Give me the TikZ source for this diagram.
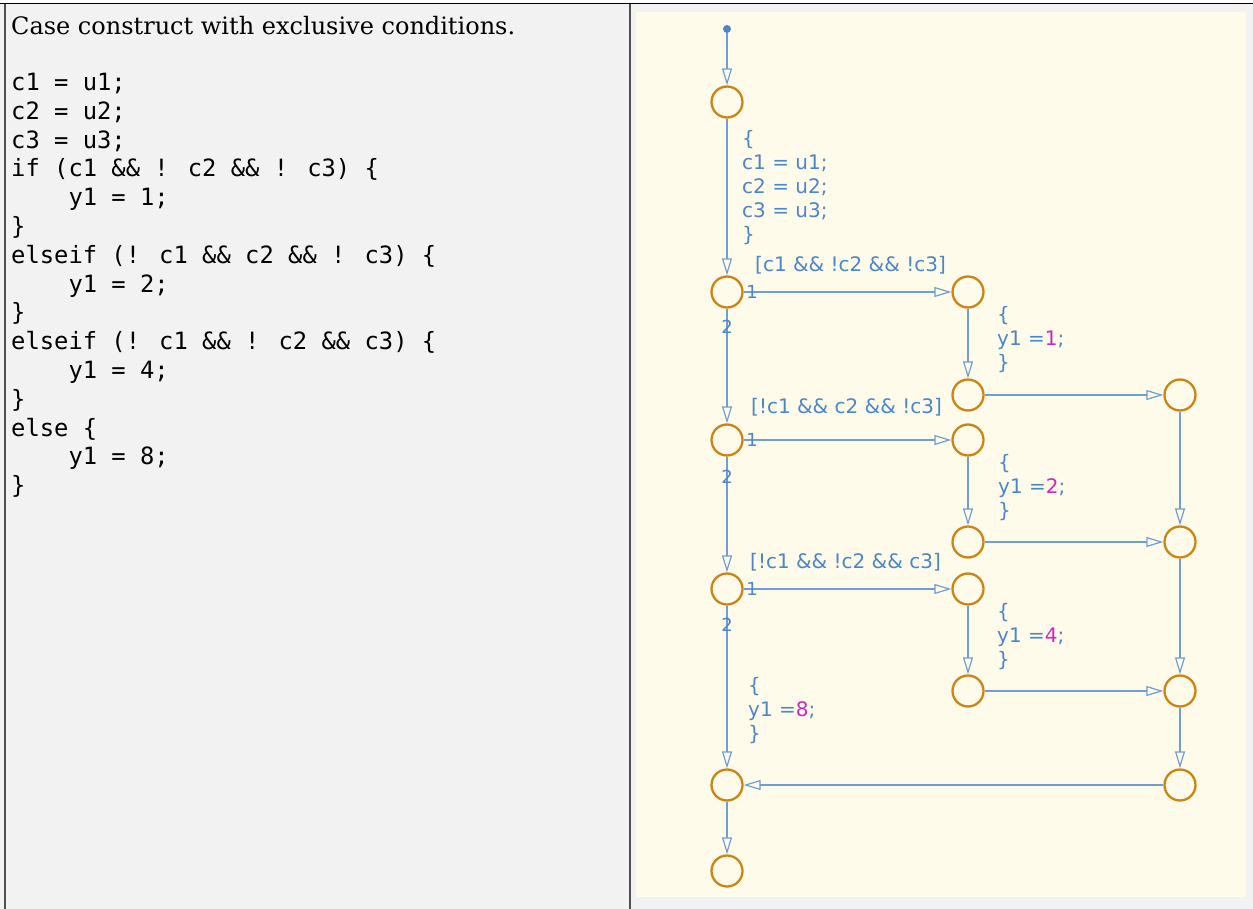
\documentclass[tikz,border=0pt]{standalone}
\usepackage{fontspec}
\setmainfont{DejaVu Serif}
\newfontfamily\codefont{DejaVu Sans Mono}
\newfontfamily\chartfont{DejaVu Sans}
\usetikzlibrary{arrows.meta}

\definecolor{panelgray}{RGB}{242,242,242}
\definecolor{chartbg}{RGB}{255,251,235}
\definecolor{frameline}{RGB}{80,80,80}
\definecolor{stateorange}{RGB}{204,133,20}
\definecolor{lineblue}{RGB}{112,158,212}
\definecolor{txtblue}{RGB}{74,134,200}
\definecolor{numpink}{RGB}{204,40,190}

\begin{document}
\begin{tikzpicture}[x=1pt, y=-1pt,
  junc/.style={circle, draw=stateorange, line width=2.3pt, fill=chartbg,
    minimum size=31pt, inner sep=0pt},
  trans/.style={draw=lineblue, line width=1.2pt,
    -{Triangle[open, length=17pt, width=10pt]}},
  chartlbl/.style={font=\chartfont\fontsize{20}{24}\selectfont,
    text=txtblue, inner sep=0pt, anchor=west, align=left},
  prio/.style={font=\chartfont\fontsize{18}{18}\selectfont,
    text=txtblue, inner sep=0pt}]
  % panels and frame
  \useasboundingbox (0,0) rectangle (1253,909);
  \fill[white] (0,0) rectangle (1253,4);
  \fill[panelgray] (0,4) rectangle (1253,909);
  \fill[chartbg] (636,12) rectangle (1246,897);
  \draw[black, line width=1.8pt] (0,3.5) -- (1253,3.5);
  \draw[frameline, line width=2pt] (4.5,4) -- (4.5,909);
  \draw[frameline, line width=2.5pt] (630,4) -- (630,909);

  % left panel text
  \node[anchor=base west, inner sep=0pt, font=\fontsize{24}{29}\selectfont]
    (title) at (11,35) {Case construct with exclusive conditions.};
  \node[anchor=north west, inner sep=0pt, align=left,
    font=\codefont\fontsize{23.8}{28.8}\selectfont] (code) at (11,73)
    {c1 = u1;\\
     c2 = u2;\\
     c3 = u3;\\
     if (c1 \&\& ! c2 \&\& ! c3) \{\\
     \phantom{0000}y1 = 1;\\
     \}\\
     elseif (! c1 \&\& c2 \&\& ! c3) \{\\
     \phantom{0000}y1 = 2;\\
     \}\\
     elseif (! c1 \&\& ! c2 \&\& c3) \{\\
     \phantom{0000}y1 = 4;\\
     \}\\
     else \{\\
     \phantom{0000}y1 = 8;\\
     \}};

  % junctions
  \node[circle, fill=txtblue, inner sep=0pt, minimum size=8pt] (dot) at (727,29) {};
  \node[junc] (init) at (727,102) {};
  \node[junc] (dec1) at (727,292) {};
  \node[junc] (act1) at (968,292) {};
  \node[junc] (out1) at (968,395) {};
  \node[junc] (mrg1) at (1180,395) {};
  \node[junc] (dec2) at (727,440) {};
  \node[junc] (act2) at (968,440) {};
  \node[junc] (out2) at (968,542) {};
  \node[junc] (mrg2) at (1180,542) {};
  \node[junc] (dec3) at (727,589) {};
  \node[junc] (act3) at (968,589) {};
  \node[junc] (out3) at (968,691) {};
  \node[junc] (mrg3) at (1180,691) {};
  \node[junc] (mrg4) at (1180,785) {};
  \node[junc] (join) at (727,785) {};
  \node[junc] (final) at (727,871) {};

  % transitions
  \draw[trans] (dot) -- (init);
  \draw[trans] (init) -- (dec1);
  \draw[trans] (dec1) -- (act1);
  \draw[trans] (act1) -- (out1);
  \draw[trans] (out1) -- (mrg1);
  \draw[trans] (dec1) -- (dec2);
  \draw[trans] (dec2) -- (act2);
  \draw[trans] (act2) -- (out2);
  \draw[trans] (out2) -- (mrg2);
  \draw[trans] (mrg1) -- (mrg2);
  \draw[trans] (dec2) -- (dec3);
  \draw[trans] (dec3) -- (act3);
  \draw[trans] (act3) -- (out3);
  \draw[trans] (out3) -- (mrg3);
  \draw[trans] (mrg2) -- (mrg3);
  \draw[trans] (mrg3) -- (mrg4);
  \draw[trans] (mrg4) -- (join);
  \draw[trans] (dec3) -- (join);
  \draw[trans] (join) -- (final);

  % labels
  \node[chartlbl] (initact) at (742,188) {\{\\c1 = u1;\\c2 = u2;\\c3 = u3;\\\}};
  \node[chartlbl] (guard1) at (755,265) {[c1 \&\& !c2 \&\& !c3]};
  \node[chartlbl] (guard2) at (751,407) {[!c1 \&\& c2 \&\& !c3]};
  \node[chartlbl] (guard3) at (750,562) {[!c1 \&\& !c2 \&\& c3]};
  \node[chartlbl] (set1) at (997,340) {\{\\y1 =\textcolor{numpink}{1};\\\}};
  \node[chartlbl] (set2) at (998,488) {\{\\y1 =\textcolor{numpink}{2};\\\}};
  \node[chartlbl] (set4) at (997,637) {\{\\y1 =\textcolor{numpink}{4};\\\}};
  \node[chartlbl] (set8) at (748,711) {\{\\y1 =\textcolor{numpink}{8};\\\}};
  \node[prio] (p11) at (752,292) {1};
  \node[prio] (p12) at (727,327) {2};
  \node[prio] (p21) at (752,440) {1};
  \node[prio] (p22) at (727,477) {2};
  \node[prio] (p31) at (752,589) {1};
  \node[prio] (p32) at (727,625) {2};
\end{tikzpicture}
\end{document}
